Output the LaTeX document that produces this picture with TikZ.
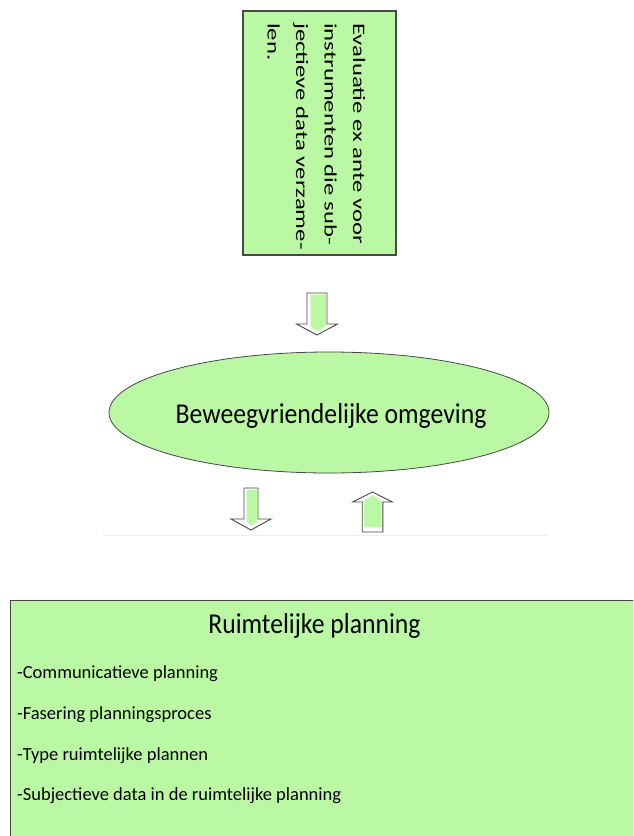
\documentclass[tikz,border=0pt]{standalone}
\usepackage{fontspec}
\setmainfont{Carlito}
\usetikzlibrary{shapes.geometric}
\definecolor{leaf}{RGB}{186,248,164}
\definecolor{rim}{RGB}{72,72,72}

\tikzset{
  panel/.style={draw=rim, line width=1.1pt, fill=leaf, inner sep=0pt},
  vline/.style={rotate=-90, anchor=base west, inner sep=0pt, font=\fontsize{17.5}{20}\selectfont},
  bigtext/.style={anchor=base, inner sep=0pt, font=\fontsize{25.7}{30}\selectfont},
  item/.style={anchor=base west, inner sep=0pt, font=\fontsize{18.5}{22}\selectfont},
  arrowrim/.style={draw=rim, line width=0.9pt, fill=white, line join=miter},
  arrowcore/.style={fill=leaf}
}
% taller setting of the headings
\newcommand\tallhead[1]{\scalebox{1}[1.12]{#1}}
% vertical lines are set wider along their baseline
\newcommand\wideline[1]{\scalebox{1.414}[1]{#1}}

\begin{document}
\begin{tikzpicture}[x=1pt, y=-1pt]
\useasboundingbox (0,0) rectangle (633,836);
\clip (0,0) rectangle (633,836);

% upper text panel with vertical lines of text
\node (src) [panel, minimum width=153pt, minimum height=244pt] at (319.5,133) {};
\node (l1) [vline] at (353,23)   {\wideline{Evaluatie ex ante voor}};
\node (l2) [vline] at (324.5,23) {\wideline{instrumenten die sub-}};
\node (l3) [vline] at (296,23)   {\wideline{jectieve data verzame-}};
\node (l4) [vline] at (267.5,23) {\wideline{len.}};

% block arrow pointing down to the ellipse
\begin{scope}[shift={(317,293)}]
  \draw[arrowrim] (-10,0) -- (10,0) -- (10,31) -- (20.5,31) -- (0,42) -- (-20.5,31) -- (-10,31) -- cycle;
  \fill[arrowcore] (-6.5,1.5) -- (9,1.5) -- (9,33) -- (0,38.5) -- (-6.5,33) -- cycle;
\end{scope}

% central ellipse
\node (env) [ellipse, draw=rim, line width=0.8pt, fill=leaf, minimum width=440pt, minimum height=121pt, inner sep=0pt] at (329,412.5) {};
\node (envtext) [bigtext] at (331,423) {\tallhead{Beweegvriendelijke omgeving}};

% block arrow pointing down to the planning panel
\begin{scope}[shift={(251,488)}]
  \draw[arrowrim] (-7,0) -- (7,0) -- (7,31) -- (20,31) -- (0,42) -- (-20,31) -- (-7,31) -- cycle;
  \fill[arrowcore] (-4.5,1.5) -- (6,1.5) -- (6,33) -- (0,38) -- (-4.5,33) -- cycle;
\end{scope}

% block arrow pointing up to the ellipse
\begin{scope}[shift={(372.5,532)}]
  \draw[arrowrim] (-10.3,0) -- (10.3,0) -- (10.3,-30) -- (20,-30) -- (0,-40) -- (-20,-30) -- (-10.3,-30) -- cycle;
  \fill[arrowcore] (-8.5,-5) -- (9,-5) -- (9,-31) -- (0,-37) -- (-8.5,-31) -- cycle;
\end{scope}

% faint rule under the arrows
\draw[black!7, line width=0.8pt] (103,535) -- (548,535);

% lower panel with the planning topics
\node (plan) [panel, anchor=north west, minimum width=660pt, minimum height=260pt] at (10,600) {};
\node (title) [bigtext] at (314.5,633) {\tallhead{Ruimtelijke planning}};
\node (t1) [item] at (17,678) {-Communicatieve planning};
\node (t2) [item] at (17,719) {-Fasering planningsproces};
\node (t3) [item] at (17,760) {-Type ruimtelijke plannen};
\node (t4) [item] at (17,800) {-Subjectieve data in de ruimtelijke planning};
\end{tikzpicture}
\end{document}
